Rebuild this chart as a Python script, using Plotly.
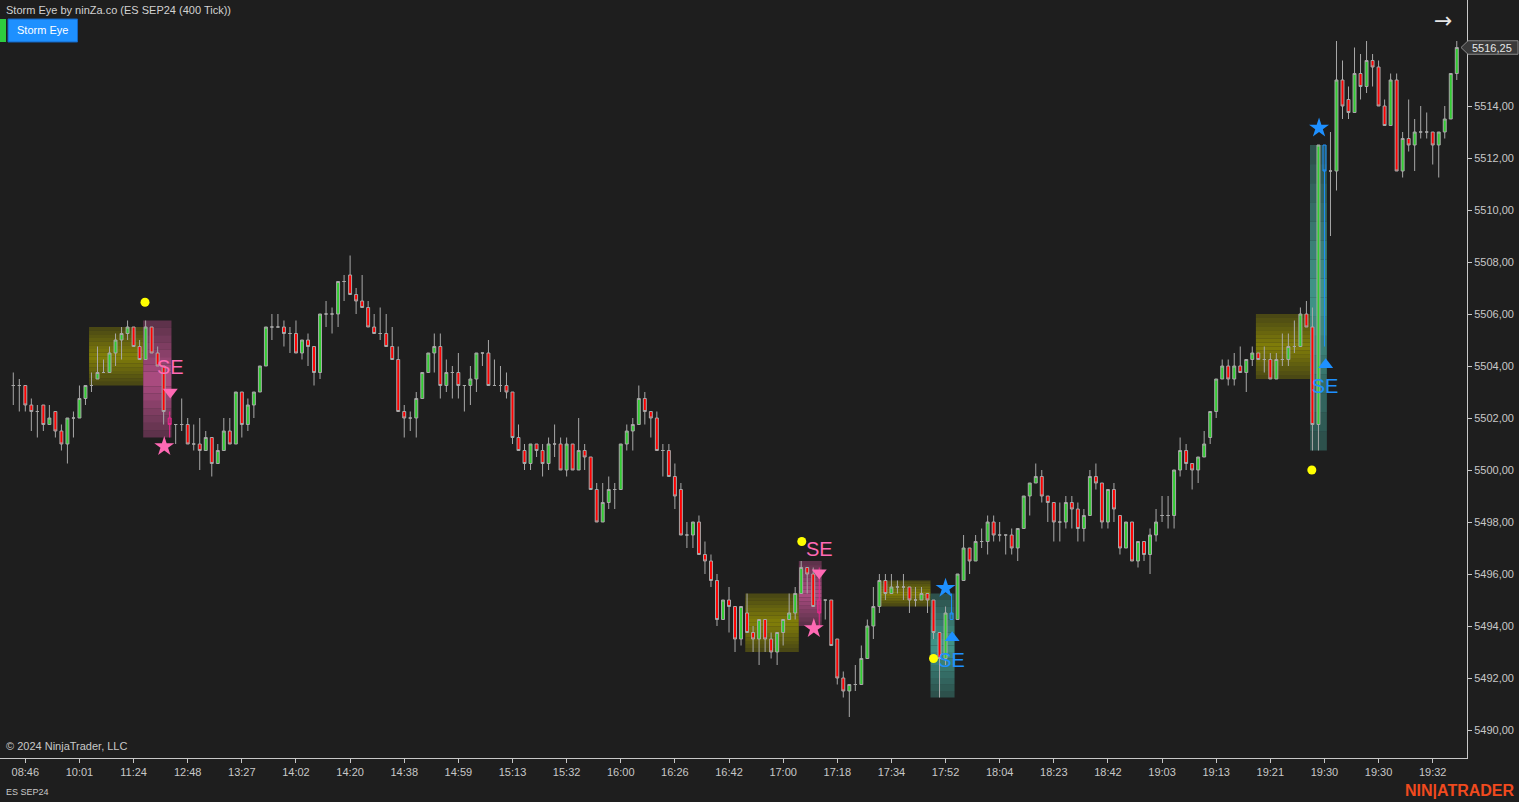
import plotly.graph_objects as go

# ---------------- data (ES SEP24, 400 tick bars) ----------------
opens = [
    5503.25, 5503.25, 5503.25, 5502.5, 5502.25, 5502.5, 5501.75, 5502.25, 5501.5, 5501,
    5502, 5502, 5502.75, 5503.25, 5503.5, 5503.75, 5503.75, 5504.5, 5505, 5505.25,
    5505.5, 5504.75, 5504.25, 5505.5, 5504.5, 5504, 5502, 5501.75, 5501.75, 5501.75,
    5501, 5501, 5500.75, 5501.25, 5500.25, 5500.75, 5501.5, 5501, 5503, 5501.75,
    5502.5, 5503, 5504, 5505.5, 5505.5, 5505.5, 5505.25, 5505.25, 5504.5, 5505,
    5504.75, 5503.75, 5506, 5506, 5506, 5507.25, 5507.5, 5506.75, 5506.5, 5506.25,
    5505.5, 5505.25, 5505.25, 5504.75, 5504.25, 5502.25, 5502, 5502, 5502.75, 5503.75,
    5504.5, 5504.75, 5503.25, 5503.75, 5503.75, 5503.25, 5503.25, 5503.5, 5504.5, 5504.5,
    5503.25, 5503.25, 5503.25, 5503, 5501.25, 5500.75, 5500.25, 5501, 5500.75, 5500.25,
    5501, 5501, 5500, 5501, 5500, 5500.75, 5500.5, 5499.25, 5498, 5498.75,
    5499.25, 5499.25, 5501, 5501.5, 5501.75, 5502.75, 5502.25, 5502, 5500.75, 5500.75,
    5499.75, 5499.25, 5497.5, 5497.5, 5498, 5496.75, 5496.5, 5495.75, 5494.25, 5495,
    5494.75, 5493.5, 5494.5, 5493.75, 5493.5, 5494.25, 5493.5, 5493, 5493.75, 5494.25,
    5494.5, 5495.25, 5496.25, 5496, 5495, 5495, 5495, 5493.5, 5492, 5491.5,
    5491.75, 5491.75, 5492.75, 5494, 5494.75, 5495.75, 5495.25, 5495.5, 5495.5, 5495.5,
    5495, 5495, 5495.25, 5495, 5493.75, 5492.75, 5494.25, 5494.25, 5495.75, 5497,
    5496.5, 5497.25, 5497.25, 5498, 5497.5, 5497.5, 5497.5, 5497, 5497.75, 5499,
    5499.5, 5499.75, 5499, 5498.75, 5498, 5498, 5498.75, 5498.5, 5497.75, 5498.25,
    5499.75, 5499.5, 5498, 5499.25, 5498.25, 5497, 5498, 5496.5, 5497.25, 5496.75,
    5497.5, 5498.25, 5498.25, 5498.25, 5500, 5500.75, 5500.25, 5500, 5500.5, 5501.25,
    5502.25, 5503.5, 5504, 5503.5, 5504, 5503.75, 5504.25, 5504.5, 5504.25, 5504.25,
    5503.5, 5504.25, 5504.25, 5504.75, 5504.75, 5506, 5505.5, 5501.75, 5512.5, 5511.5,
    5511.5, 5515, 5514.25, 5513.75, 5515.25, 5514.75, 5515.75, 5515.5, 5514, 5513.25,
    5515, 5511.5, 5512.75, 5512.5, 5513, 5513, 5513, 5512.5, 5513, 5513.5, 5515.25,
]
highs = [
    5503.75, 5503.5, 5503.25, 5502.75, 5502.5, 5502.5, 5502.5, 5502.25, 5501.75, 5502,
    5502.25, 5503.25, 5503.25, 5503.75, 5504.75, 5504.25, 5504.75, 5505.25, 5505.5, 5505.75,
    5505.5, 5505, 5505.75, 5505.5, 5504.75, 5504, 5502.25, 5501.75, 5502.75, 5502,
    5501.75, 5502, 5501.5, 5501.25, 5501, 5502, 5502, 5503, 5503, 5502.75,
    5503, 5504, 5505.5, 5506, 5506, 5505.75, 5505.5, 5505.75, 5505, 5505.25,
    5504.75, 5506, 5506.5, 5506.25, 5507.25, 5507.5, 5508.25, 5507, 5507.5, 5506.5,
    5506, 5506.25, 5506, 5505.5, 5504.75, 5502.5, 5502.25, 5503, 5503.75, 5504.5,
    5505.25, 5505.25, 5504.25, 5504, 5504.5, 5503.25, 5504, 5504.5, 5504.5, 5505,
    5504.25, 5504, 5503.75, 5503, 5501.75, 5501, 5501, 5501, 5501, 5501.25,
    5501.75, 5501.25, 5501.25, 5501, 5502, 5501, 5500.5, 5499.5, 5499.5, 5499.75,
    5499.5, 5501, 5501.75, 5502, 5503.25, 5503, 5502.25, 5502.25, 5501, 5501,
    5500.25, 5499.5, 5498, 5498, 5498.25, 5497.25, 5496.75, 5496, 5495, 5495.5,
    5494.75, 5494.75, 5495.25, 5494, 5494.25, 5494.25, 5493.75, 5493.75, 5494.25, 5495.25,
    5495.5, 5496.5, 5496.25, 5496.25, 5496.25, 5495, 5495, 5493.5, 5492.25, 5491.75,
    5492.5, 5493.25, 5494.25, 5495.5, 5496, 5496, 5496, 5495.75, 5496, 5495.5,
    5495.5, 5495.5, 5495.25, 5495, 5493.75, 5494.75, 5495.25, 5496, 5497.5, 5497,
    5497.5, 5497.75, 5498.25, 5498.25, 5498, 5497.5, 5497.75, 5497.75, 5499, 5499.5,
    5500.25, 5500, 5499, 5498.75, 5498.75, 5499, 5499, 5498.75, 5498.5, 5500,
    5500.25, 5499.5, 5499.25, 5499.5, 5498.25, 5498, 5498, 5497.25, 5497.25, 5497.75,
    5498.5, 5499, 5499, 5500, 5501.25, 5501, 5500.25, 5500.5, 5501.5, 5502.25,
    5503.5, 5504.25, 5504.25, 5504.5, 5504.75, 5504.25, 5504.75, 5504.5, 5504.75, 5504.5,
    5504.5, 5505.25, 5505.25, 5505.75, 5506.25, 5506.5, 5506.25, 5512.5, 5512.5, 5513,
    5516.5, 5515.75, 5514.75, 5516.25, 5516, 5516.5, 5516, 5515.75, 5514.25, 5515.25,
    5515.25, 5513, 5514.25, 5513.5, 5514, 5513.75, 5513, 5513, 5514, 5515.25, 5516.5,
]
lows = [
    5502.5, 5502.25, 5502.25, 5501.5, 5501.25, 5501.5, 5501.75, 5501.25, 5500.75, 5500.25,
    5501.25, 5502, 5502.5, 5503, 5503.5, 5503.75, 5503.75, 5504, 5504.25, 5505,
    5504.75, 5504.25, 5504.25, 5504.5, 5504, 5501.75, 5501.25, 5501, 5501.5, 5501,
    5500.75, 5500, 5500.75, 5499.75, 5500.25, 5500.75, 5501, 5501, 5501.25, 5501.5,
    5502, 5503, 5504, 5505, 5505.5, 5504.75, 5504.5, 5504.5, 5504.25, 5504,
    5503.25, 5503.5, 5505.5, 5505.25, 5505.5, 5506.5, 5506.75, 5506, 5506.25, 5505.5,
    5505.25, 5505, 5504.75, 5504.25, 5502.25, 5501.25, 5501.5, 5501.25, 5502.75, 5503.75,
    5503.75, 5502.75, 5503, 5502.75, 5502.75, 5502.25, 5502.5, 5503, 5504, 5503.25,
    5503.25, 5503, 5502.75, 5501, 5500.75, 5500, 5500, 5500.5, 5499.75, 5500,
    5500.5, 5500, 5499.75, 5500, 5500, 5500, 5499.25, 5498, 5498, 5498.5,
    5498.5, 5499.25, 5500.75, 5500.75, 5501.75, 5501.75, 5501.25, 5500.75, 5499.75, 5499.75,
    5498.5, 5497.5, 5497, 5497, 5496.75, 5496, 5495.5, 5494, 5494.25, 5493.75,
    5493, 5493.25, 5493.75, 5493, 5492.5, 5493, 5492.75, 5492.5, 5493.25, 5494.25,
    5494.25, 5495.25, 5495.25, 5494.75, 5494, 5494.25, 5493.25, 5491.75, 5491.25, 5490.5,
    5491.5, 5491.75, 5492.75, 5493.5, 5494.5, 5495, 5495.25, 5495.25, 5495, 5494.5,
    5494.75, 5495, 5494.5, 5493.5, 5491.25, 5492.5, 5494.25, 5494.25, 5495.75, 5496,
    5496.5, 5497, 5496.75, 5497.25, 5497.25, 5496.75, 5496.75, 5496.5, 5497.75, 5498.25,
    5499.5, 5498.75, 5498, 5497.25, 5497.25, 5497.75, 5497.75, 5497.25, 5497.25, 5498.25,
    5499.25, 5497.75, 5497.75, 5498, 5496.75, 5497, 5496.5, 5496.25, 5496.5, 5496,
    5497.25, 5498, 5497.75, 5497.75, 5499.75, 5500, 5499.25, 5499.5, 5500.5, 5501,
    5502, 5503.5, 5503.25, 5503.25, 5503.75, 5503, 5504, 5504.25, 5503.75, 5503.5,
    5503.5, 5504, 5504, 5504.5, 5504.75, 5505.5, 5500.75, 5500.75, 5504.75, 5509,
    5510.75, 5513.5, 5513.5, 5513.75, 5514.25, 5514.5, 5514.75, 5514, 5513.25, 5513.25,
    5511.5, 5511.25, 5512.25, 5511.5, 5512.75, 5512.75, 5511.75, 5511.25, 5512.75, 5513.5, 5515,
]
closes = [
    5503.25, 5503.25, 5502.5, 5502.25, 5502.25, 5501.75, 5502, 5501.5, 5501, 5502,
    5502, 5502.75, 5503.25, 5503.25, 5503.75, 5503.75, 5504.5, 5505, 5505.25, 5505.5,
    5504.75, 5504.25, 5505.5, 5504.5, 5504, 5502.25, 5501.75, 5501.75, 5501.75, 5501,
    5501, 5500.75, 5501.25, 5500.25, 5500.75, 5501.5, 5501, 5503, 5501.75, 5502.5,
    5503, 5504, 5505.5, 5505.5, 5505.5, 5505.25, 5505.25, 5504.5, 5505, 5504.75,
    5503.75, 5506, 5506, 5506, 5507.25, 5507.25, 5506.75, 5506.5, 5506.25, 5505.5,
    5505.25, 5505.25, 5504.75, 5504.25, 5502.25, 5502, 5502, 5502.75, 5503.75, 5504.5,
    5504.75, 5503.25, 5503.75, 5503.75, 5503.25, 5503.25, 5503.5, 5504.5, 5504.5, 5503.25,
    5503.25, 5503.25, 5503, 5501.25, 5500.75, 5500.25, 5501, 5500.75, 5500.25, 5501,
    5501, 5500, 5501, 5500, 5500.75, 5500.5, 5499.25, 5498, 5498.75, 5499.25,
    5499.25, 5501, 5501.5, 5501.75, 5502.75, 5502.25, 5502, 5500.75, 5500.75, 5499.75,
    5499, 5497.5, 5497.5, 5498, 5496.75, 5496.5, 5495.75, 5494.25, 5495, 5494.75,
    5493.5, 5494.75, 5493.75, 5493.5, 5494.25, 5493.5, 5493, 5493.75, 5494.25, 5494.5,
    5495.25, 5496.25, 5496, 5494.75, 5494.5, 5495, 5493.25, 5492, 5491.5, 5491.75,
    5491.75, 5492.75, 5494, 5494.75, 5495.75, 5495.25, 5495.5, 5495.5, 5495.5, 5495,
    5495, 5495.25, 5495, 5493.75, 5492.75, 5494.5, 5494.5, 5496, 5497, 5496.5,
    5497.25, 5497.25, 5498, 5497.5, 5497.5, 5497.5, 5497, 5497.75, 5499, 5499.5,
    5499.75, 5499, 5498.75, 5498, 5498, 5498.75, 5498.5, 5497.75, 5498.25, 5499.75,
    5499.5, 5498, 5499.25, 5498.5, 5497, 5498, 5496.5, 5497.25, 5496.75, 5497.5,
    5498, 5498.25, 5498.25, 5500, 5500.75, 5500.25, 5500, 5500.5, 5501, 5502.25,
    5503.5, 5504, 5503.5, 5504, 5503.75, 5504.25, 5504.5, 5504.25, 5504.25, 5503.5,
    5504.25, 5504.25, 5504.75, 5504.75, 5506, 5505.5, 5501.75, 5512.5, 5511.5, 5511.5,
    5515, 5514, 5513.75, 5515.25, 5514.75, 5515.75, 5515.5, 5514, 5513.25, 5515,
    5511.5, 5512.75, 5512.5, 5513, 5513, 5513, 5512.5, 5513, 5513.5, 5515.25, 5516.25,
]

time_labels = ["08:46", "10:01", "11:24", "12:48", "13:27", "14:02", "14:20", "14:38", "14:59",
               "15:13", "15:32", "16:00", "16:26", "16:42", "17:00", "17:18", "17:34", "17:52",
               "18:04", "18:23", "18:42", "19:03", "19:13", "19:21", "19:30", "19:30", "19:32"]
time_label_bars = [2 + 9 * k for k in range(len(time_labels))]

price_ticks = [5490, 5492, 5494, 5496, 5498, 5500, 5502, 5504, 5506, 5508, 5510, 5512, 5514]

# Storm Eye signal bars
pink_signal_bars = [26, 134]
blue_signal_bars = [156, 218]

# Storm Eye zones: (bar_start, bar_end, price_low, price_high)
squeeze_zones = [(12.6, 21.6, 5503.25, 5505.5), (121.7, 130.6, 5493.0, 5495.25),
                 (143.8, 152.5, 5494.75, 5495.75), (206.6, 215.6, 5503.5, 5506.0)]
bear_zones = [(21.6, 26.3, 5501.25, 5505.75), (130.6, 134.4, 5494.0, 5496.5)]
bull_zones = [(152.5, 156.5, 5491.25, 5495.25), (215.6, 218.4, 5500.75, 5512.5)]

# markers (bar, price)
dot_bars = [21.9, 131.1, 153.0, 215.9]
dot_prices = [5506.45, 5497.25, 5492.75, 5500.0]
bear_tri_bars = [26.1, 134.0]
bear_tri_prices = [5503.0, 5496.05]
bull_tri_bars = [156.1, 218.2]
bull_tri_prices = [5493.55, 5504.05]
bear_star_bars = [25.1, 133.1]
bear_star_prices = [5500.9, 5493.9]
bull_star_bars = [155.0, 217.1]
bull_star_prices = [5495.45, 5513.15]
bear_se_bars = [26.1, 134.0]
bear_se_prices = [5503.9, 5496.9]
bull_se_bars = [156.0, 218.1]
bull_se_prices = [5492.6, 5503.15]

last_price = closes[-1]

# ---------------- figure ----------------
BG = "#1e1e1e"
AX = "#c8c8c8"
FONT = "Liberation Sans, Arial, sans-serif"
PINK = "#ff69b4"
BLUE = "#1e90ff"
W, H = 1467.0, 758.0

fig = go.Figure()

signal = set(pink_signal_bars + blue_signal_bars)
main = [i for i in range(len(opens)) if i not in signal]


def sub(lst, ids):
    return [lst[i] for i in ids]


fig.add_trace(go.Candlestick(
    x=main, open=sub(opens, main), high=sub(highs, main), low=sub(lows, main), close=sub(closes, main),
    increasing=dict(fillcolor="#32cd32", line=dict(color="#a8a8a8", width=1)),
    decreasing=dict(fillcolor="#ff0000", line=dict(color="#a8a8a8", width=1)),
    whiskerwidth=0, showlegend=False, hoverinfo="skip"))

fig.add_trace(go.Candlestick(
    x=pink_signal_bars, open=sub(opens, pink_signal_bars), high=sub(highs, pink_signal_bars),
    low=sub(lows, pink_signal_bars), close=sub(closes, pink_signal_bars),
    increasing=dict(fillcolor="rgba(230,40,140,0.45)", line=dict(color="#e8288c", width=1)),
    decreasing=dict(fillcolor="rgba(230,40,140,0.45)", line=dict(color="#e8288c", width=1)),
    whiskerwidth=0, showlegend=False, hoverinfo="skip"))

fig.add_trace(go.Candlestick(
    x=blue_signal_bars, open=sub(opens, blue_signal_bars), high=sub(highs, blue_signal_bars),
    low=sub(lows, blue_signal_bars), close=sub(closes, blue_signal_bars),
    increasing=dict(fillcolor="rgba(30,144,255,0.15)", line=dict(color=BLUE, width=1)),
    decreasing=dict(fillcolor="rgba(30,144,255,0.15)", line=dict(color=BLUE, width=1)),
    whiskerwidth=0, showlegend=False, hoverinfo="skip"))


def gradient_box(zone, rgb, amin, amax, n=16):
    x0, x1, y0, y1 = zone
    for k in range(n):
        t = (k + 0.5) / n
        a = amin + (amax - amin) * (1 - abs(2 * t - 1))
        fig.add_shape(type="rect", xref="x", yref="y", x0=x0, x1=x1,
                      y0=y0 + (y1 - y0) * k / n, y1=y0 + (y1 - y0) * (k + 1) / n,
                      fillcolor=f"rgba({rgb},{a:.3f})", line_width=0, layer="below")


for z in squeeze_zones:
    gradient_box(z, "175,170,0", 0.28, 0.70)
for z in bear_zones:
    gradient_box(z, "215,90,160", 0.32, 0.78)
for z in bull_zones:
    gradient_box(z, "75,185,170", 0.30, 0.78)

# markers
fig.add_trace(go.Scatter(x=dot_bars, y=dot_prices, mode="markers",
                         marker=dict(symbol="circle", size=9, color="#ffff00"),
                         showlegend=False, hoverinfo="skip"))
fig.add_trace(go.Scatter(x=bear_tri_bars, y=bear_tri_prices, mode="markers",
                         marker=dict(symbol="triangle-down", size=13, color=PINK),
                         showlegend=False, hoverinfo="skip"))
fig.add_trace(go.Scatter(x=bull_tri_bars, y=bull_tri_prices, mode="markers",
                         marker=dict(symbol="triangle-up", size=13, color=BLUE),
                         showlegend=False, hoverinfo="skip"))
fig.add_trace(go.Scatter(x=bear_star_bars, y=bear_star_prices, mode="markers",
                         marker=dict(symbol="star", size=15, color=PINK),
                         showlegend=False, hoverinfo="skip"))
fig.add_trace(go.Scatter(x=bull_star_bars, y=bull_star_prices, mode="markers",
                         marker=dict(symbol="star", size=15, color=BLUE),
                         showlegend=False, hoverinfo="skip"))
fig.add_trace(go.Scatter(x=bear_se_bars, y=bear_se_prices, mode="text", text=["SE"] * len(bear_se_bars),
                         textfont=dict(family=FONT, size=20, color=PINK),
                         showlegend=False, hoverinfo="skip"))
fig.add_trace(go.Scatter(x=bull_se_bars, y=bull_se_prices, mode="text", text=["SE"] * len(bull_se_bars),
                         textfont=dict(family=FONT, size=20, color=BLUE),
                         showlegend=False, hoverinfo="skip"))

# axes
fig.update_xaxes(range=[-2.21, 241.7], tickmode="array", tickvals=time_label_bars, ticktext=time_labels,
                 showgrid=False, zeroline=False, showline=True, linecolor=AX, linewidth=1,
                 ticks="outside", ticklen=4, tickcolor=AX, tickfont=dict(family=FONT, size=11, color=AX),
                 rangeslider=dict(visible=False), fixedrange=True)
fig.update_yaxes(range=[5488.923, 5518.077], side="right", tickmode="array", tickvals=price_ticks,
                 ticktext=[f"{v:.2f}".replace(".", ",") for v in price_ticks],
                 showgrid=False, zeroline=False, showline=True, linecolor=AX, linewidth=1,
                 ticks="outside", ticklen=4, tickcolor=AX, tickfont=dict(family=FONT, size=11, color=AX),
                 fixedrange=True)


def px(x):
    return x / W


def py(y):
    return 1 - y / H


# current price marker
fig.add_shape(type="path", xref="paper", yref="y",
              path=(f"M {px(1461)} {last_price} L {px(1468)} {last_price + 0.26} "
                    f"L {px(1518)} {last_price + 0.26} L {px(1518)} {last_price - 0.26} "
                    f"L {px(1468)} {last_price - 0.26} Z"),
              fillcolor="#3a3a3a", line=dict(color="#8a8a8a", width=1), layer="above")
fig.add_annotation(xref="paper", yref="y", x=px(1492), y=last_price,
                   text=f"{last_price:.2f}".replace(".", ","), showarrow=False,
                   font=dict(family=FONT, size=11, color="#e6e6e6"), xanchor="center", yanchor="middle")

# header and decorations
fig.add_annotation(xref="paper", yref="paper", x=px(4), y=py(10), xanchor="left", yanchor="middle",
                   text="Storm Eye by ninZa.co (ES SEP24 (400 Tick))", showarrow=False,
                   font=dict(family=FONT, size=11, color="#d2d2d2"))
fig.add_shape(type="rect", xref="paper", yref="paper", x0=px(0), x1=px(6), y0=py(42), y1=py(19),
              fillcolor="#2ecc40", line_width=0, layer="above")
fig.add_shape(type="rect", xref="paper", yref="paper", x0=px(8), x1=px(77.5), y0=py(42), y1=py(19),
              fillcolor="#1e90ff", line=dict(color="#1565c0", width=1), layer="above")
fig.add_annotation(xref="paper", yref="paper", x=px(42.5), y=py(30.5), xanchor="center", yanchor="middle",
                   text="Storm Eye", showarrow=False, font=dict(family=FONT, size=11, color="#ffffff"))
fig.add_annotation(xref="paper", yref="paper", x=px(1443), y=py(20), xanchor="center", yanchor="middle",
                   text="→", showarrow=False, font=dict(family="DejaVu Sans", size=22, color="#e6e6e6"))
fig.add_annotation(xref="paper", yref="paper", x=px(4), y=py(746), xanchor="left", yanchor="middle",
                   text="© 2024 NinjaTrader, LLC", showarrow=False,
                   font=dict(family=FONT, size=11, color="#c8c8c8"))
fig.add_annotation(xref="paper", yref="paper", x=px(4), y=py(792), xanchor="left", yanchor="middle",
                   text="ES SEP24", showarrow=False, font=dict(family=FONT, size=9, color="#c8c8c8"))
fig.add_annotation(xref="paper", yref="paper", x=px(1517), y=py(791), xanchor="right", yanchor="middle",
                   text="<b>NIN|ATRADER</b>", showarrow=False,
                   font=dict(family=FONT, size=16, color="#f04a1e"))

fig.update_layout(width=1519, height=802, margin=dict(l=0, r=52, t=0, b=44),
                  paper_bgcolor=BG, plot_bgcolor=BG, showlegend=False,
                  font=dict(family=FONT, color=AX), hovermode=False)

fig.write_html("out.html",
               config={"displayModeBar": False, "staticPlot": True},
               post_script="document.body.style.margin='0';document.body.style.padding='0';"
                           "document.body.style.background='#1e1e1e';"
                           "document.body.style.overflow='hidden';")
